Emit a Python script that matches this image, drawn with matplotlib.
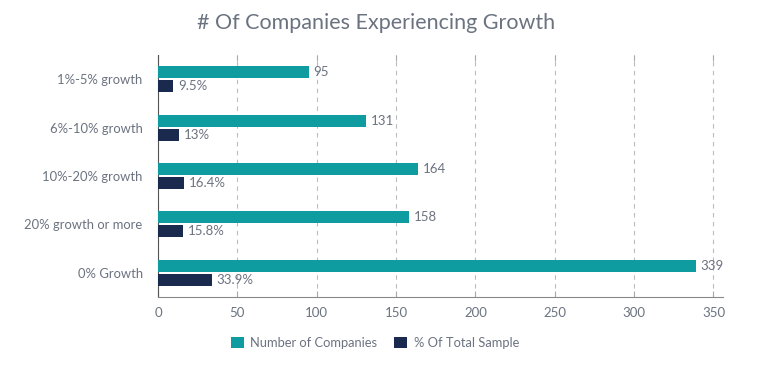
import matplotlib
matplotlib.use("Agg")
import matplotlib.pyplot as plt
import numpy as np

categories = ["1%-5% growth", "6%-10% growth", "10%-20% growth", "20% growth or more", "0% Growth"]
num_companies = [95, 131, 164, 158, 339]
pct_sample = [9.5, 13, 16.4, 15.8, 33.9]
pct_labels = ["9.5%", "13%", "16.4%", "15.8%", "33.9%"]
x_ticks = [0, 50, 100, 150, 200, 250, 300, 350]

teal = "#0E9CA0"
navy = "#1A2A4E"
txt = "#6B7380"

plt.rcParams['font.family'] = ['Lato', 'DejaVu Sans']

fig = plt.figure(figsize=(7.84, 3.73), dpi=100)
ax = fig.add_axes([158/784, 1-297/373, (723-158)/784, (297-55)/373])

y = np.arange(len(categories))
h = 0.25
ax.barh(y - h/2 - 0.02, num_companies, height=h, color=teal, zorder=3, label="Number of Companies")
ax.barh(y + h/2 + 0.02, pct_sample, height=h, color=navy, zorder=3, label="% Of Total Sample")

for yi, v in zip(y, num_companies):
    ax.text(v + 3, yi - h/2 - 0.02, str(v), va="center", ha="left", fontsize=9.5, color=txt)
for yi, v, s in zip(y, pct_sample, pct_labels):
    ax.text(v + 3, yi + h/2 + 0.02, s, va="center", ha="left", fontsize=9.5, color=txt)

ax.set_ylim(len(categories) - 0.5, -0.5)
ax.set_xlim(0, 356)
ax.set_yticks(y)
ax.set_yticklabels(categories, fontsize=9.4, color=txt)
ax.set_xticks(x_ticks)
ax.set_xticklabels([str(t) for t in x_ticks], fontsize=9.5, color=txt)
ax.tick_params(axis="y", length=0, pad=11)
ax.tick_params(axis="x", direction="in", length=4, color="#AAAAAA", top=True, pad=7)

ax.grid(axis="x", linestyle=(0, (4, 4)), color="#BBBBBB", linewidth=0.8, zorder=0)
for s in ["top", "right"]:
    ax.spines[s].set_visible(False)
ax.spines["left"].set_color("#555555")
ax.spines["bottom"].set_color("#888888")

fig.text(376/784, 1-23/373, "# Of Companies Experiencing Growth", ha="center", va="center",
         fontsize=15.5, color="#6B7380")

leg = fig.legend(loc="center", bbox_to_anchor=(375/784, 1-343/373), ncol=2, frameon=False,
                 fontsize=9.3, handlelength=1.0, handleheight=1.0, columnspacing=1.3, handletextpad=0.5)
for t in leg.get_texts():
    t.set_color(txt)

fig.savefig("out.png", dpi=100)
